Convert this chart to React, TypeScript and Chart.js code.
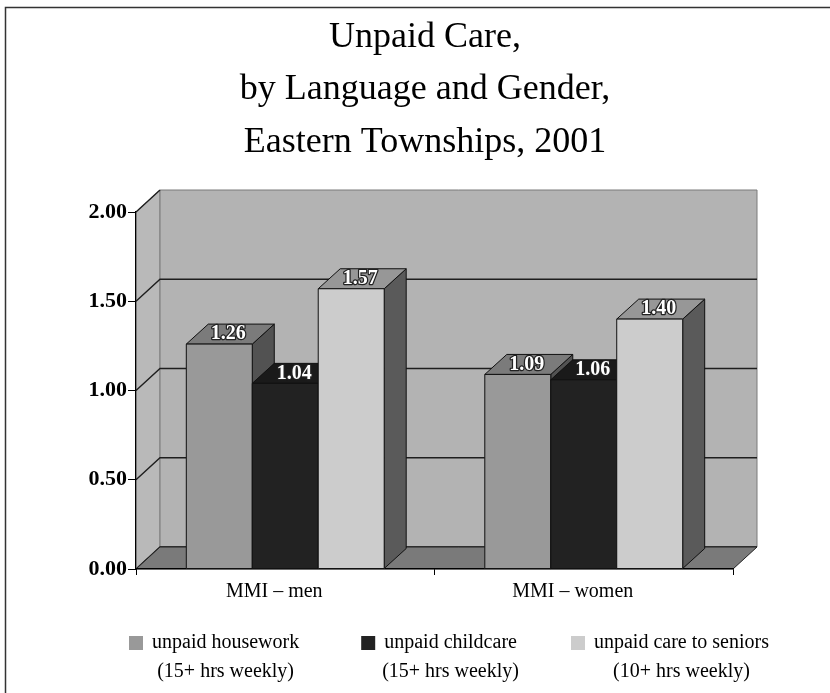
import React, { useEffect, useRef } from 'react';
import { Chart, registerables } from 'chart.js';

Chart.register(...registerables);

// ---- data ----
const categories = ['MMI – men', 'MMI – women'];
const seriesNames = ['unpaid housework', 'unpaid childcare', 'unpaid care to seniors'];
const seriesNotes = ['(15+ hrs weekly)', '(15+ hrs weekly)', '(10+ hrs weekly)'];
const housework = [1.26, 1.09];
const childcare = [1.04, 1.06];
const seniors = [1.57, 1.4];
const titleLines = ['Unpaid Care,', 'by Language and Gender,', 'Eastern Townships, 2001'];
const yMin = 0;
const yMax = 2;
const yStep = 0.5;

// ---- styles ----
const frontColors = ['#999999', '#222222', '#cccccc'];
const topColors = ['#7b7b7b', '#1a1a1a', '#979797'];
const sideColors = ['#525252', '#101010', '#5a5a5a'];
const SERIF = "'Liberation Serif', 'Times New Roman', Times, serif";
const WALL = { dx: 24, dy: 22 };
const BAR = { dx: 22, dy: 20 };
const LEGEND_GAPS = [62, 50];

type Pt = [number, number];

function poly(ctx: CanvasRenderingContext2D, pts: Pt[], fill: string, stroke?: string, lw = 1) {
  ctx.beginPath();
  ctx.moveTo(pts[0][0], pts[0][1]);
  for (let i = 1; i < pts.length; i++) ctx.lineTo(pts[i][0], pts[i][1]);
  ctx.closePath();
  ctx.fillStyle = fill;
  ctx.fill();
  if (stroke) {
    ctx.strokeStyle = stroke;
    ctx.lineWidth = lw;
    ctx.stroke();
  }
}

const threeD = {
  id: 'threeD',
  beforeDraw(chart: any) {
    const ctx: CanvasRenderingContext2D = chart.ctx;
    const { left, right, top, bottom } = chart.chartArea;
    const { dx, dy } = WALL;
    ctx.save();
    ctx.fillStyle = '#ffffff';
    ctx.fillRect(0, 0, chart.width, chart.height);
    // frame
    ctx.strokeStyle = '#333333';
    ctx.lineWidth = 1.5;
    ctx.beginPath();
    ctx.moveTo(5.5, chart.height);
    ctx.lineTo(5.5, 7.5);
    ctx.lineTo(chart.width, 7.5);
    ctx.stroke();
    // title
    ctx.fillStyle = '#000000';
    ctx.font = `36px ${SERIF}`;
    ctx.textAlign = 'center';
    ctx.textBaseline = 'middle';
    titleLines.forEach((t, i) => ctx.fillText(t, chart.width / 2 + 10, 37.5 + i * 52.5));
    // walls
    poly(ctx, [[left, top], [left + dx, top - dy], [left + dx, bottom - dy], [left, bottom]], '#b9b9b9', '#808080');
    poly(ctx, [[left + dx, top - dy], [right + dx, top - dy], [right + dx, bottom - dy], [left + dx, bottom - dy]], '#b3b3b3', '#7a7a7a');
    // gridlines
    const ys = chart.scales.y;
    ctx.lineWidth = 1.4;
    ys.ticks.forEach((t: any) => {
      const py = ys.getPixelForValue(t.value);
      ctx.strokeStyle = '#1e1e1e';
      ctx.beginPath();
      ctx.moveTo(left, py);
      ctx.lineTo(left + dx, py - dy);
      if (t.value < yMax) ctx.lineTo(right + dx, py - dy);
      ctx.stroke();
    });
    // floor
    poly(ctx, [[left, bottom], [right, bottom], [right + dx, bottom - dy], [left + dx, bottom - dy]], '#7a7a7a', '#222222');
    ctx.restore();
  },
  afterDatasetsDraw(chart: any) {
    const ctx: CanvasRenderingContext2D = chart.ctx;
    const { dx, dy } = BAR;
    const metas = chart.data.datasets.map((_: any, i: number) => chart.getDatasetMeta(i));
    const labels: { x: number; y: number; t: string }[] = [];
    ctx.save();
    for (let c = 0; c < chart.data.labels.length; c++) {
      metas.forEach((meta: any, d: number) => {
        const el = meta.data[c];
        if (!el) return;
        const { x, y, base, width } = el.getProps(['x', 'y', 'base', 'width'], true);
        const l = x - width / 2;
        const r = x + width / 2;
        poly(ctx, [[r, y], [r + dx, y - dy], [r + dx, base - dy], [r, base]], sideColors[d], '#111111');
        poly(ctx, [[l, y], [r, y], [r + dx, y - dy], [l + dx, y - dy]], topColors[d], '#111111');
        poly(ctx, [[l, y], [r, y], [r, base], [l, base]], frontColors[d], '#111111');
        labels.push({ x: x + 9, y: y - dy / 2, t: Number(chart.data.datasets[d].data[c]).toFixed(2) });
      });
    }
    ctx.font = `bold 20px ${SERIF}`;
    ctx.textAlign = 'center';
    ctx.textBaseline = 'middle';
    ctx.lineJoin = 'round';
    labels.forEach((lb) => {
      ctx.strokeStyle = '#222222';
      ctx.lineWidth = 2.5;
      ctx.strokeText(lb.t, lb.x, lb.y);
      ctx.fillStyle = '#ffffff';
      ctx.fillText(lb.t, lb.x, lb.y);
    });
    ctx.restore();
  },
  afterDraw(chart: any) {
    const ctx: CanvasRenderingContext2D = chart.ctx;
    ctx.save();
    ctx.font = `20px ${SERIF}`;
    ctx.textBaseline = 'middle';
    const widths = seriesNames.map((n, i) => Math.max(ctx.measureText(n).width, ctx.measureText(seriesNotes[i]).width));
    const box = 14;
    const gapBox = 9;
    let x = chart.chartArea.left - 7;
    const y1 = chart.chartArea.bottom + 74;
    const y2 = y1 + 29;
    seriesNames.forEach((name, i) => {
      ctx.fillStyle = frontColors[i];
      ctx.fillRect(x, y1 - 7, box, box);
      const tx = x + box + gapBox;
      const w1 = ctx.measureText(name).width;
      ctx.fillStyle = '#000000';
      ctx.textAlign = 'left';
      ctx.fillText(name, tx, y1);
      ctx.textAlign = 'center';
      ctx.fillText(seriesNotes[i], tx + w1 / 2, y2);
      x = tx + widths[i] + (LEGEND_GAPS[i] ?? 0);
    });
    ctx.restore();
  },
};

export default function App() {
  const ref = useRef<HTMLCanvasElement | null>(null);
  useEffect(() => {
    if (!ref.current) return;
    Chart.defaults.font.family = SERIF;
    const chart = new Chart(ref.current, {
      type: 'bar',
      data: {
        labels: categories,
        datasets: [
          { label: seriesNames[0], data: housework, backgroundColor: frontColors[0], borderWidth: 0 },
          { label: seriesNames[1], data: childcare, backgroundColor: frontColors[1], borderWidth: 0 },
          { label: seriesNames[2], data: seniors, backgroundColor: frontColors[2], borderWidth: 0 },
        ],
      },
      options: {
        responsive: false,
        animation: false,
        devicePixelRatio: 1,
        layout: { padding: { left: 66, right: 97, top: 212, bottom: 84 } },
        datasets: { bar: { categoryPercentage: 0.663, barPercentage: 1 } },
        plugins: {
          legend: { display: false },
          tooltip: { enabled: false },
          title: { display: false },
        },
        scales: {
          x: {
            afterFit: (s: any) => { s.height = 40; },
            grid: { display: true, drawOnChartArea: false, drawTicks: true, tickLength: 6, color: '#000000', offset: true },
            border: { display: true, color: '#000000', width: 1.2 },
            ticks: { color: '#000000', font: { family: SERIF, size: 20 }, padding: 5, labelOffset: -11 },
          },
          y: {
            min: yMin,
            max: yMax,
            afterFit: (s: any) => { s.width = 70; },
            grid: { display: true, drawOnChartArea: false, drawTicks: true, tickLength: 8, color: '#000000' },
            border: { display: true, color: '#000000', width: 1.2 },
            ticks: {
              stepSize: yStep,
              color: '#000000',
              padding: 1,
              font: { family: SERIF, size: 22, weight: 'bold' },
              callback: (v: any) => Number(v).toFixed(2),
            },
          },
        },
      },
      plugins: [threeD],
    } as any);
    return () => chart.destroy();
  }, []);
  return (
    <div style={{ position: 'absolute', left: 0, top: 0, width: 830, height: 693 }}>
      <canvas ref={ref} width={830} height={693} style={{ display: 'block', width: 830, height: 693 }} />
    </div>
  );
}
